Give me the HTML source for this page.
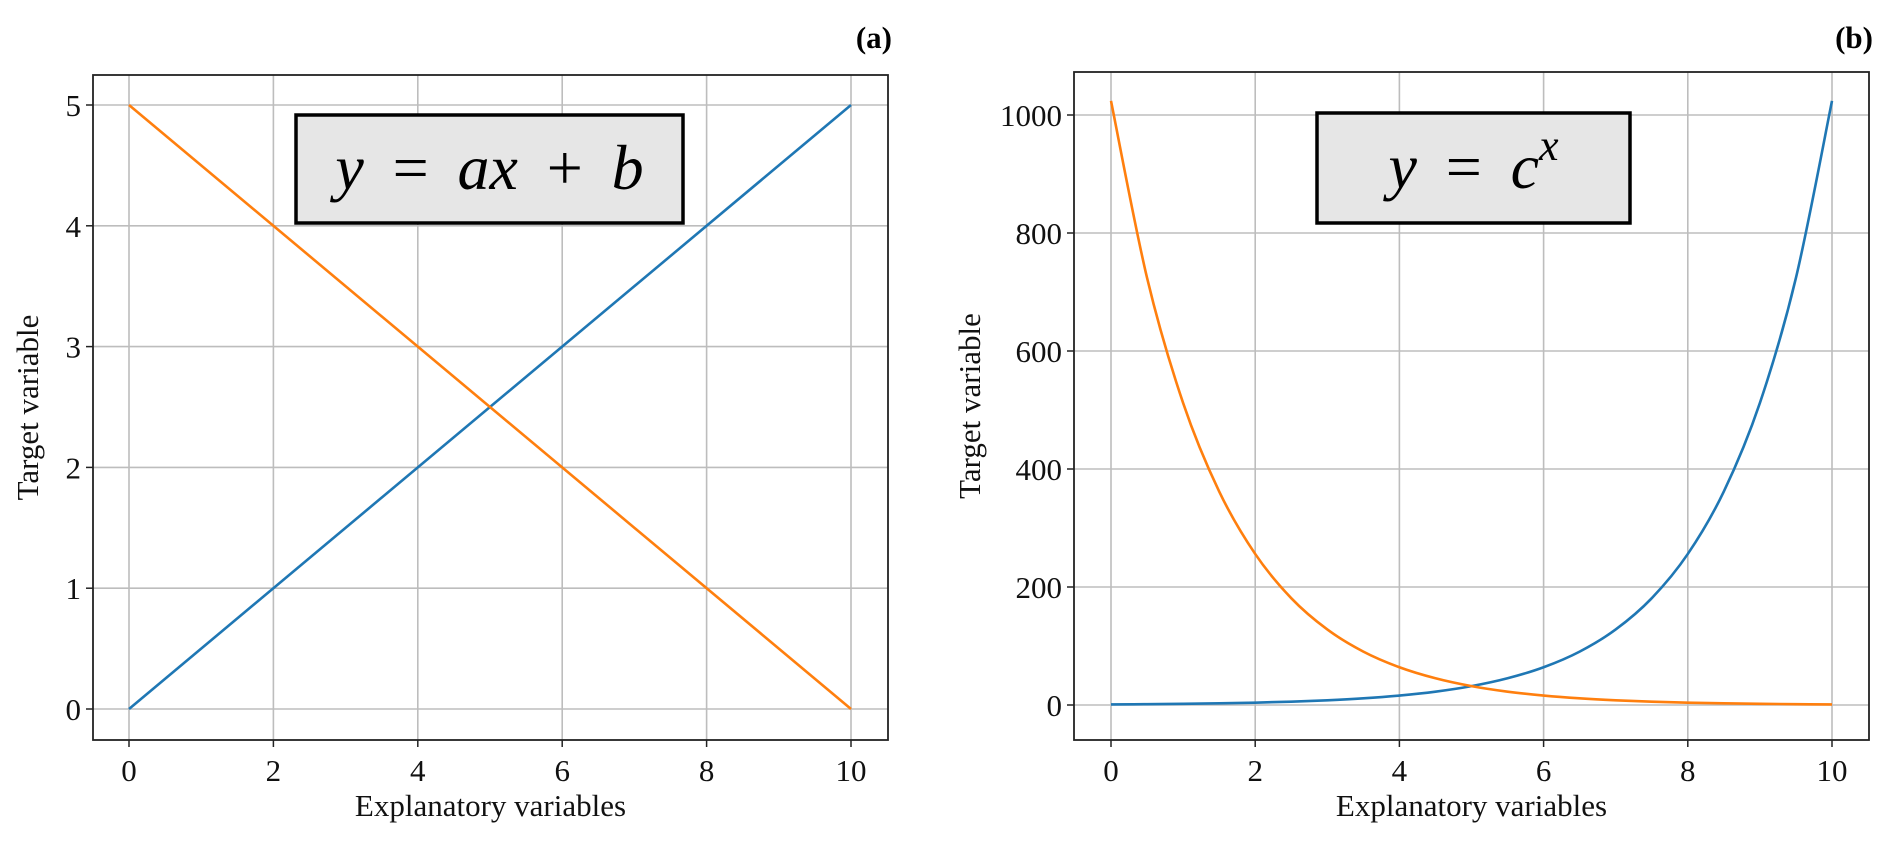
<!DOCTYPE html>
<html><head><meta charset="utf-8"><style>
html,body{margin:0;padding:0;background:#fff;}
svg{display:block;font-family:"Liberation Serif",serif;}
</style></head><body>
<svg id="chart" width="1892" height="846" viewBox="0 0 1892 846" xmlns="http://www.w3.org/2000/svg"></svg>
<script>
const xTicks=[0,2,4,6,8,10];
const linX=[0,10];
const linUp=[0,5];
const linDown=[5,0];
const linYTicks=[0,1,2,3,4,5];
const expX=[0,0.5,1,1.5,2,2.5,3,3.5,4,4.5,5,5.5,6,6.5,7,7.5,8,8.5,9,9.5,10];
const expUp=[1,1.41,2,2.83,4,5.66,8,11.3,16,22.6,32,45.3,64,90.5,128,181,256,362,512,724,1024];
const expDown=[1024,724,512,362,256,181,128,90.5,64,45.3,32,22.6,16,11.3,8,5.66,4,2.83,2,1.41,1];
const expYTicks=[0,200,400,600,800,1000];

const NS="http://www.w3.org/2000/svg";
const svg=document.getElementById('chart');
function el(tag,attrs,parent){const e=document.createElementNS(NS,tag);for(const k in attrs)e.setAttribute(k,attrs[k]);(parent||svg).appendChild(e);return e;}

function panel(cfg){
  const g=el('g',{});
  
  
  const sx=v=>cfg.x0px+(v-0)*(cfg.x10px-cfg.x0px)/10;
  const sy=v=>cfg.yAt0+(v)*(cfg.yAtRef-cfg.yAt0)/cfg.ref;
  xTicks.forEach(t=>{
    const l=el('line',{x1:sx(t),x2:sx(t),y1:cfg.top,y2:cfg.bottom,stroke:'#bdbdbd','stroke-width':1.6},g);
    
    
  });
  cfg.yTicks.forEach(t=>{
    const l=el('line',{x1:cfg.left,x2:cfg.right,y1:sy(t),y2:sy(t),stroke:'#bdbdbd','stroke-width':1.6},g);
    
    
  });
  cfg.series.forEach(s=>{
    let d='';
    const pts=s.x.map((xv,i)=>[sx(xv),sy(s.y[i])]);
    d='M'+pts[0][0]+','+pts[0][1];
    for(let i=0;i<pts.length-1;i++){
      const p0=pts[Math.max(0,i-1)],p1=pts[i],p2=pts[i+1],p3=pts[Math.min(pts.length-1,i+2)];
      if(pts.length<3){d+=' L'+p2[0]+','+p2[1];continue;}
      const c1=[p1[0]+(p2[0]-p0[0])/6,p1[1]+(p2[1]-p0[1])/6];
      const c2=[p2[0]-(p3[0]-p1[0])/6,p2[1]-(p3[1]-p1[1])/6];
      d+=` C${c1[0]},${c1[1]} ${c2[0]},${c2[1]} ${p2[0]},${p2[1]}`;
    }
    const p=el('path',{d:d,fill:'none',stroke:s.color,'stroke-width':2.6,'stroke-linejoin':'round'},g);
    
    
  });
  const r=el('rect',{x:cfg.left,y:cfg.top,width:cfg.right-cfg.left,height:cfg.bottom-cfg.top,fill:'none',stroke:'#222','stroke-width':1.8},g);
  
  
  xTicks.forEach(t=>{
    el('line',{x1:sx(t),x2:sx(t),y1:cfg.bottom,y2:cfg.bottom+7,stroke:'#222','stroke-width':1.5},g);
    const tx=el('text',{x:sx(t),y:cfg.bottom+41,'text-anchor':'middle','font-size':31,fill:'#111'},g);
    tx.textContent=t;
    
    
  });
  cfg.yTicks.forEach(t=>{
    el('line',{x1:cfg.left-7,x2:cfg.left,y1:sy(t),y2:sy(t),stroke:'#222','stroke-width':1.5},g);
    const tx=el('text',{x:cfg.left-12,y:sy(t)+11,'text-anchor':'end','font-size':31,fill:'#111'},g);
    tx.textContent=t;
    
    
  });
  const xl=el('text',{x:(cfg.left+cfg.right)/2,y:816,'text-anchor':'middle','font-size':31,fill:'#111'},g);
  xl.textContent='Explanatory variables';
  
  
  const yl=el('text',{x:0,y:0,'text-anchor':'middle','font-size':31,fill:'#111',transform:`translate(${cfg.ylabX},${(cfg.top+cfg.bottom)/2}) rotate(-90)`},g);
  yl.textContent='Target variable';
  
  
  const b=el('rect',{x:cfg.box[0],y:cfg.box[1],width:cfg.box[2],height:cfg.box[3],fill:'#e6e6e6',stroke:'#000','stroke-width':3.5},g);
  
  
  const eq=el('text',{x:cfg.box[0]+cfg.box[2]/2,y:cfg.box[1]+cfg.box[3]/2+20,'text-anchor':'middle','font-size':64,'font-style':'italic',fill:'#000'},g);
  eq.innerHTML=cfg.eq;
  
  
  const pl=el('text',{x:cfg.right+4,y:48,'text-anchor':'end','font-size':31,'font-weight':'bold',fill:'#000'},g);
  pl.textContent=cfg.label;
  
  
}

panel({name:'panel-a-linear',left:93,right:888,top:75,bottom:740,x0px:129,x10px:851,yAt0:709,yAtRef:105,ref:5,
  yTicks:linYTicks,ylabX:38,box:[296,115,387,108],label:'(a)',
  eq:'y<tspan font-style="normal"> \u2009=\u2009 </tspan>ax<tspan font-style="normal"> \u2009+\u2009 </tspan>b',
  series:[{name:'line-increasing',x:linX,y:linUp,color:'#1f77b4'},{name:'line-decreasing',x:linX,y:linDown,color:'#ff7f0e'}]});
panel({name:'panel-b-exponential',left:1074,right:1869,top:72,bottom:740,x0px:1111,x10px:1832,yAt0:705,yAtRef:115,ref:1000,
  yTicks:expYTicks,ylabX:980,box:[1317,113,313,110],label:'(b)',
  eq:'y<tspan font-style="normal"> \u2009=\u2009 </tspan>c<tspan dy="-28" font-size="44">x</tspan>',
  series:[{name:'curve-growth',x:expX,y:expUp,color:'#1f77b4'},{name:'curve-decay',x:expX,y:expDown,color:'#ff7f0e'}]});
</script>
</body></html>
